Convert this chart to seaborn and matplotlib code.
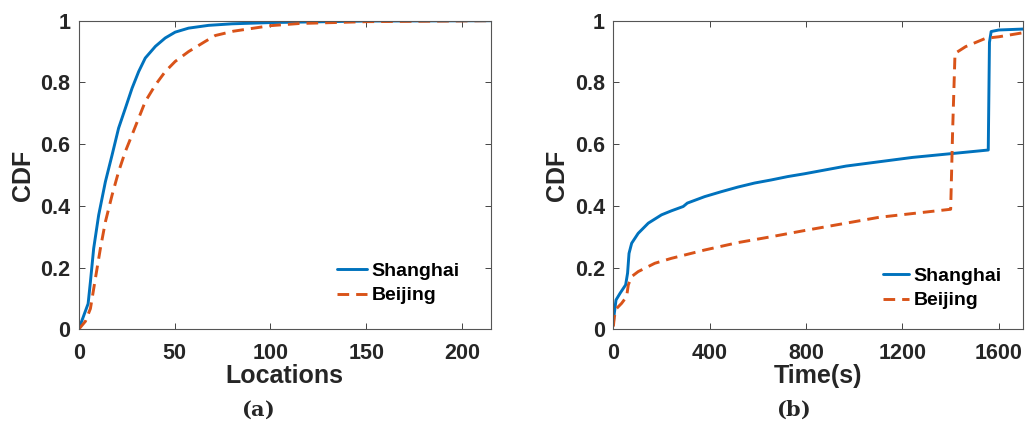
import numpy as np
import pandas as pd
import matplotlib
matplotlib.use("Agg")
import matplotlib.pyplot as plt
import seaborn as sns

# ---- data ----
loc_sh_x = [0, 4.9, 6.1, 7.8, 10.4, 13.9, 17.4, 20.8, 24.3, 27.8, 31.25, 34.7, 40, 45.1, 50.3, 57.3, 67.7, 80, 100, 150, 215]
loc_sh_y = [0, 0.083, 0.154, 0.262, 0.37, 0.478, 0.565, 0.652, 0.716, 0.781, 0.835, 0.879, 0.917, 0.944, 0.963, 0.976, 0.985, 0.99, 0.994, 0.999, 1.0]
loc_bj_x = [0, 3.5, 6.1, 8.7, 11.3, 13.9, 17.4, 20.8, 24.3, 27.8, 31.25, 34.7, 40, 45.1, 50.3, 57.3, 66, 71.2, 80.6, 100, 115, 150, 215]
loc_bj_y = [0, 0.026, 0.067, 0.165, 0.262, 0.348, 0.435, 0.511, 0.576, 0.63, 0.684, 0.738, 0.792, 0.835, 0.868, 0.9, 0.933, 0.952, 0.966, 0.984, 0.991, 0.997, 1.0]

time_sh_x = [0, 4, 11, 28, 51, 59, 65, 76, 103, 145, 200, 241, 290, 307, 379, 448, 517, 586, 655, 724, 793, 966, 1241, 1556, 1561, 1568, 1600, 1700]
time_sh_y = [0.019, 0.052, 0.095, 0.117, 0.144, 0.182, 0.246, 0.279, 0.311, 0.344, 0.371, 0.384, 0.398, 0.409, 0.43, 0.446, 0.461, 0.474, 0.484, 0.495, 0.504, 0.529, 0.557, 0.581, 0.93, 0.965, 0.97, 0.973]
time_bj_x = [0, 4, 14, 34, 55, 62, 76, 103, 172, 241, 379, 517, 655, 793, 1103, 1400, 1408, 1418, 1462, 1545, 1600, 1700]
time_bj_y = [0.009, 0.041, 0.068, 0.084, 0.106, 0.144, 0.171, 0.187, 0.214, 0.23, 0.257, 0.281, 0.30, 0.32, 0.363, 0.389, 0.64, 0.894, 0.916, 0.943, 0.948, 0.961]

series_names = ["Shanghai", "Beijing"]
yticks = [0, 0.2, 0.4, 0.6, 0.8, 1]
ytick_labels = ["0", "0.2", "0.4", "0.6", "0.8", "1"]
xticks_a = [0, 50, 100, 150, 200]
xticks_b = [0, 400, 800, 1200, 1600]

sns.set_style("ticks")
plt.rcParams["font.family"] = ["Liberation Sans", "DejaVu Sans"]
plt.rcParams["font.weight"] = "bold"

blue = "#0072BD"
orange = "#D95319"

df_a = pd.concat([
    pd.DataFrame({"x": loc_sh_x, "y": loc_sh_y, "city": series_names[0]}),
    pd.DataFrame({"x": loc_bj_x, "y": loc_bj_y, "city": series_names[1]}),
])
df_b = pd.concat([
    pd.DataFrame({"x": time_sh_x, "y": time_sh_y, "city": series_names[0]}),
    pd.DataFrame({"x": time_bj_x, "y": time_bj_y, "city": series_names[1]}),
])

fig = plt.figure(figsize=(10.25, 4.23), dpi=100)
ax1 = fig.add_axes([0.0768, 0.2215, 0.4022, 0.7295])
ax2 = fig.add_axes([0.5984, 0.2215, 0.3996, 0.7295])

for ax, df, xlim, xticks, xlabel, handle_len, anchor in [
    (ax1, df_a, (0, 215), xticks_a, "Locations", 1.55, (0.607, 0.242)),
    (ax2, df_b, (0, 1700), xticks_b, "Time(s)", 1.3, (0.64, 0.226)),
]:
    sns.lineplot(data=df, x="x", y="y", hue="city", style="city",
                 palette={"Shanghai": blue, "Beijing": orange},
                 dashes={"Shanghai": "", "Beijing": (4, 2.4)},
                 linewidth=2.1, sort=False, estimator=None, ax=ax)
    ax.set_xlim(*xlim)
    ax.set_ylim(0, 1)
    ax.set_xticks(xticks)
    ax.set_xticklabels([str(t) for t in xticks])
    ax.set_yticks(yticks)
    ax.set_yticklabels(ytick_labels)
    ax.tick_params(direction="in", length=4, width=0.6, top=True, right=True,
                   labelsize=15.5, colors="#262626", labelcolor="#262626")
    ax.tick_params(axis="x", pad=10)
    ax.tick_params(axis="y", pad=6)
    for lab in ax.get_xticklabels() + ax.get_yticklabels():
        lab.set_fontweight("bold")
    for s in ax.spines.values():
        s.set_visible(True)
        s.set_linewidth(0.8)
        s.set_color("#555555")
    ax.set_xlabel(xlabel, fontsize=18, fontweight="bold", labelpad=0, color="#262626")
    ax.set_ylabel("CDF", fontsize=18, fontweight="bold", labelpad=4, color="#262626")
    leg = ax.legend(loc="upper left", bbox_to_anchor=anchor, frameon=False,
                    handlelength=handle_len, handletextpad=0.25, labelspacing=0.35,
                    prop={"size": 14, "weight": "bold"}, borderaxespad=0)
    for t in leg.get_texts():
        t.set_color("black")

fig.text(0.2517, 0.031, r"($\mathbf{a}$)", ha="center", va="center", fontsize=15,
         family=["DejaVu Serif"], math_fontfamily="dejavuserif")
fig.text(0.7737, 0.031, r"($\mathbf{b}$)", ha="center", va="center", fontsize=15,
         family=["DejaVu Serif"], math_fontfamily="dejavuserif")

fig.savefig("out.png", dpi=100)
